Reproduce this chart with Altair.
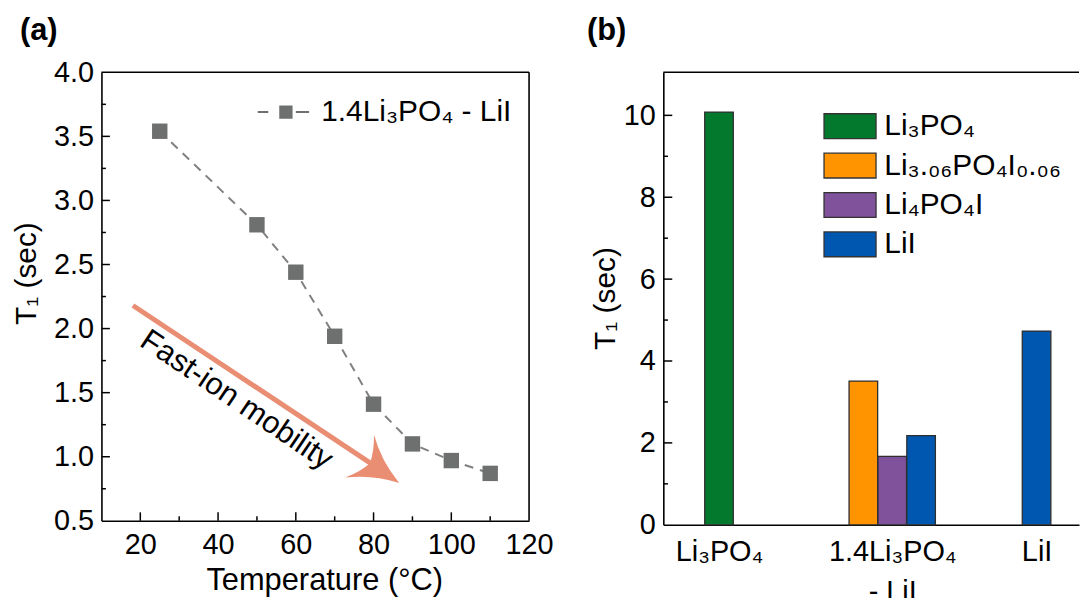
import json
import altair as alt
import pandas as pd

FONT = "Liberation Sans"
BLACK = "#000000"

# ---------------- Panel (a) data ----------------
temperature_c = [25, 50, 60, 70, 80, 90, 100, 110]
t1_sec_a = [3.54, 2.81, 2.44, 1.94, 1.41, 1.10, 0.97, 0.87]
series_name_a = "1.4Li₃PO₄ - LiI"
x_ticks_a = [20, 40, 60, 80, 100, 120]
x_minor_a = [30, 50, 70, 90, 110]
y_ticks_a = [0.5, 1.0, 1.5, 2.0, 2.5, 3.0, 3.5, 4.0]
y_minor_a = [0.75, 1.25, 1.75, 2.25, 2.75, 3.25, 3.75]
arrow_from = [18.1, 2.18]
arrow_to = [79.2, 0.95]
arrow_head_at = [81.5, 0.90]
arrow_label = ["Fast-ion mobility"]
arrow_label_at = [44.7, 1.44]

# ---------------- Panel (b) data ----------------
category_labels_b = [["Li₃PO₄"], ["1.4Li₃PO₄", "- LiI"], ["LiI"]]
category_slots_b = [2, 8, 13]
series_b = ["Li₃PO₄", "Li₃.₀₆PO₄I₀.₀₆", "Li₄PO₄I", "LiI"]
colors_b = ["#02792c", "#ff9300", "#7f529b", "#0057b0"]
bar_category_b = [0, 1, 1, 1, 2]
bar_series_b = ["Li₃PO₄", "Li₃.₀₆PO₄I₀.₀₆", "Li₄PO₄I", "LiI", "LiI"]
bar_t1_b = [10.08, 3.51, 1.67, 2.18, 4.73]
y_ticks_b = [0, 2, 4, 6, 8, 10]
y_minor_b = [1, 3, 5, 7, 9]

one_row = pd.DataFrame({"k": [0]})

# =============== Panel (a) ===============
WA, HA = 430, 451
xs_a = alt.Scale(domain=[10, 120], nice=False, zero=False)
ys_a = alt.Scale(domain=[0.5, 4.0], nice=False, zero=False)

df_a = pd.DataFrame({"temp": temperature_c, "t1": t1_sec_a,
                     "series": [series_name_a] * len(temperature_c)})

x_axis_a = alt.Axis(values=x_ticks_a, ticks=False, grid=False, domain=True,
                    domainColor=BLACK, domainWidth=1.6, labelFlush=False,
                    labelOverlap=False, labelFontSize=29, labelPadding=10,
                    labelColor=BLACK, title="Temperature (°C)", titleFontSize=31,
                    titleFontWeight="normal", titleColor=BLACK, titleX=224,
                    titleY=69, titleAlign="center", titleBaseline="alphabetic")
y_axis_a = alt.Axis(values=y_ticks_a, format=".1f", ticks=False, grid=False,
                    domain=True, domainColor=BLACK, domainWidth=1.6,
                    labelFlush=False, labelOverlap=False, labelFontSize=29,
                    labelPadding=8, labelColor=BLACK, title="T₁ (sec)",
                    titleFontSize=30, titleFontWeight="normal", titleColor=BLACK,
                    titleX=-75, titleY=202, titleAlign="center",
                    titleBaseline="middle", titleAngle=270)


def xa(field):
    return alt.X(field, scale=xs_a, axis=x_axis_a)


def ya(field):
    return alt.Y(field, scale=ys_a, axis=y_axis_a)


legend_sym_a = ("M-2.15,-0.083H-1.267V0.083H-2.15Z "
                "M-0.35,-0.558H0.767V0.558H-0.35Z "
                "M1.04,-0.083H2.15V0.083H1.04Z")
legend_a = alt.Legend(orient="none", legendX=154, legendY=25, title=None,
                      symbolType=legend_sym_a, symbolSize=576,
                      symbolStrokeWidth=0, symbolOffset=14, symbolOpacity=1,
                      labelFontSize=30, labelOffset=23, labelColor=BLACK,
                      labelLimit=500, padding=0)

line_a = alt.Chart(df_a).mark_line(color="#808080", strokeWidth=2,
                                   strokeDash=[9, 7]).encode(
    x=xa("temp:Q"), y=ya("t1:Q"))

pts_a = alt.Chart(df_a).mark_point(shape="square", filled=True, size=240,
                                   opacity=1).encode(
    x=xa("temp:Q"), y=ya("t1:Q"),
    color=alt.Color("series:N", scale=alt.Scale(domain=[series_name_a],
                                                range=["#6e7070"]),
                    legend=legend_a))


def yticks(values, ychan, length):
    return alt.Chart(pd.DataFrame({"v": values})).mark_rule(
        color=BLACK, strokeWidth=1.5).encode(
        y=ychan("v:Q"), x=alt.value(0), x2=alt.value(length))


def xticks(values, xchan, length, h):
    return alt.Chart(pd.DataFrame({"v": values})).mark_rule(
        color=BLACK, strokeWidth=1.5).encode(
        x=xchan("v:Q"), y=alt.value(h), y2=alt.value(h - length))


top_a = alt.Chart(one_row).mark_rule(color=BLACK, strokeWidth=1.6).encode(
    x=alt.value(0), x2=alt.value(WA), y=alt.value(0))
right_a = alt.Chart(one_row).mark_rule(color=BLACK, strokeWidth=1.6).encode(
    x=alt.value(WA), y=alt.value(0), y2=alt.value(HA))

ARROW = "#e98e73"
df_shaft = pd.DataFrame({"x1": [arrow_from[0]], "y1": [arrow_from[1]],
                         "x2": [arrow_to[0]], "y2": [arrow_to[1]]})
shaft = alt.Chart(df_shaft).mark_rule(color=ARROW, strokeWidth=5,
                                      strokeCap="butt").encode(
    x=xa("x1:Q"), y=ya("y1:Q"), x2="x2:Q", y2="y2:Q")

head_path = ("M0.924,0 Q-0.15,-0.32 -0.924,-1 Q-0.55,-0.45 -0.44,0 "
             "Q-0.55,0.45 -0.924,1 Q-0.15,0.32 0.924,0 Z")
df_head = pd.DataFrame({"x1": [arrow_head_at[0]], "y1": [arrow_head_at[1]]})
head = alt.Chart(df_head).mark_point(shape=head_path, filled=True, size=2700,
                                     angle=34, color=ARROW, opacity=1,
                                     strokeWidth=0).encode(
    x=xa("x1:Q"), y=ya("y1:Q"))

df_lab = pd.DataFrame({"x1": [arrow_label_at[0]], "y1": [arrow_label_at[1]],
                       "t": arrow_label})
arrow_text = alt.Chart(df_lab).mark_text(angle=34, fontSize=31, font=FONT,
                                         align="center", baseline="middle",
                                         color=BLACK).encode(
    x=xa("x1:Q"), y=ya("y1:Q"), text="t:N")

tag_a = alt.Chart(pd.DataFrame({"t": ["(a)"]})).mark_text(
    fontSize=31, fontWeight="bold", font=FONT, align="center",
    baseline="middle", color=BLACK).encode(
    text="t:N", x=alt.value(-63), y=alt.value(-41.3))

panel_a = alt.layer(
    line_a, pts_a,
    yticks(y_ticks_a[1:-1], ya, 8.5), yticks(y_minor_a, ya, 4.5),
    xticks(x_ticks_a[:-1], xa, 8.5, HA), xticks(x_minor_a, xa, 4.5, HA),
    top_a, right_a, shaft, head, arrow_text, tag_a
).properties(width=WA, height=HA)

# =============== Panel (b) ===============
WB, HB = 418, 455
PX_PER_SLOT = 29.03
X0_B = 0.071
xs_b = alt.Scale(domain=[X0_B, X0_B + WB / PX_PER_SLOT], nice=False, zero=False)
ys_b = alt.Scale(domain=[0, HB / 41.17], nice=False, zero=False)

rows = []
for ci, slot in enumerate(category_slots_b):
    idx = [i for i, c in enumerate(bar_category_b) if c == ci]
    n = len(idx)
    for k, i in enumerate(idx):
        center = slot + k - (n - 1) / 2
        rows.append({"lo": center - 0.495, "hi": center + 0.495,
                     "t1": bar_t1_b[i], "base": 0, "series": bar_series_b[i]})
df_b = pd.DataFrame(rows)

parts = []
for slot, lines in zip(category_slots_b, category_labels_b):
    lit = json.dumps(lines if len(lines) > 1 else lines[0], ensure_ascii=False)
    parts.append(f"datum.value === {slot} ? {lit}")
label_expr = " : ".join(parts) + " : ''"

x_axis_b = alt.Axis(values=category_slots_b, labelExpr=label_expr, ticks=False,
                    grid=False, domain=True, domainColor=BLACK, domainWidth=1.6,
                    labelFontSize=29, labelPadding=13, labelLineHeight=40,
                    labelFlush=False, labelOverlap=False, labelColor=BLACK,
                    title=None)
y_axis_b = alt.Axis(values=y_ticks_b, ticks=False, grid=False, domain=True,
                    domainColor=BLACK, domainWidth=1.6, labelFontSize=29,
                    labelPadding=8, labelFlush=False, labelOverlap=False,
                    labelColor=BLACK, title="T₁ (sec)", titleFontSize=30,
                    titleFontWeight="normal", titleColor=BLACK, titleX=-58,
                    titleY=227, titleAlign="center", titleBaseline="middle",
                    titleAngle=270)


def yb(field):
    return alt.Y(field, scale=ys_b, axis=y_axis_b)


color_b = alt.Scale(domain=series_b, range=colors_b)

bars_b = alt.Chart(df_b).mark_bar(stroke="#2f2f2f", strokeWidth=1.3,
                                  opacity=1).encode(
    x=alt.X("lo:Q", scale=xs_b, axis=x_axis_b),
    x2="hi:Q",
    y=yb("t1:Q"),
    y2="base:Q",
    color=alt.Color("series:N", scale=color_b, legend=None))

# legend of panel (b), drawn as marks in the panel's pixel space
LEG_X, LEG_W, LEG_H, LEG_Y0, LEG_DY = 161.6, 52.3, 25, 54.2, 39.6
df_leg = pd.DataFrame({"series": series_b})
df_leg["yc"] = LEG_Y0 + LEG_DY * df_leg.index
df_leg["y0"] = df_leg["yc"] - LEG_H / 2
df_leg["y1"] = df_leg["yc"] + LEG_H / 2
leg_sw = alt.Chart(df_leg).mark_rect(stroke="#333333", strokeWidth=1.3,
                                     opacity=1).encode(
    x=alt.value(LEG_X), x2=alt.value(LEG_X + LEG_W),
    y=alt.Y("y0:Q", scale=None), y2="y1:Q",
    color=alt.Color("series:N", scale=color_b, legend=None))
leg_tx = alt.Chart(df_leg).mark_text(fontSize=30, font=FONT, align="left",
                                     baseline="middle", color=BLACK).encode(
    x=alt.value(LEG_X + LEG_W + 8.3),
    y=alt.Y("yc:Q", scale=None),
    text="series:N")

top_b = alt.Chart(one_row).mark_rule(color=BLACK, strokeWidth=1.6).encode(
    x=alt.value(0), x2=alt.value(WB), y=alt.value(0))

tag_b = alt.Chart(pd.DataFrame({"t": ["(b)"]})).mark_text(
    fontSize=31, fontWeight="bold", font=FONT, align="center",
    baseline="middle", color=BLACK).encode(
    text="t:N", x=alt.value(-57), y=alt.value(-41.3))

panel_b = alt.layer(
    bars_b, yticks(y_ticks_b[1:], yb, 9), yticks(y_minor_b, yb, 4.7),
    top_b, leg_sw, leg_tx, tag_b
).properties(width=WB, height=HB)

chart = alt.hconcat(panel_a, panel_b, spacing=32).resolve_scale(
    color="independent").resolve_legend(color="independent").properties(
    padding={"left": 11, "top": 13, "right": 0, "bottom": 0}
).configure(font=FONT).configure_view(stroke="transparent")

chart.save("out.html", embed_options={"renderer": "svg", "actions": False})
